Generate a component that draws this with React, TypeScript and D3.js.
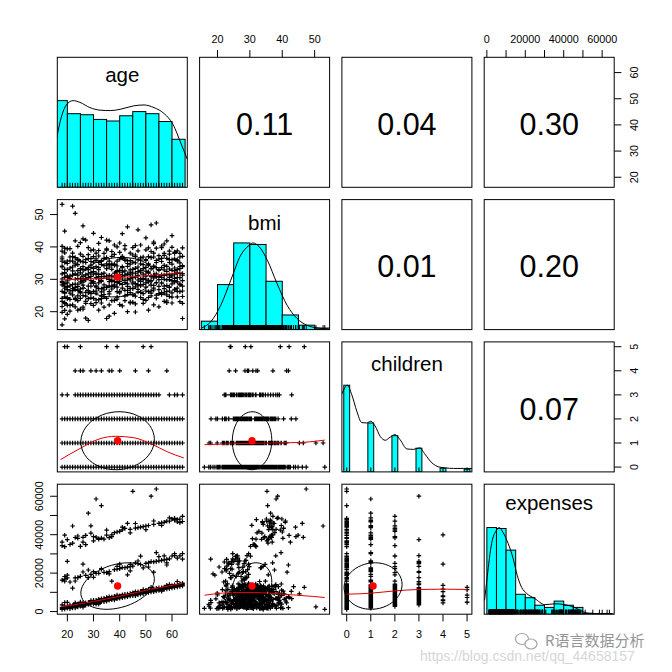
import React from "react";
import * as d3 from "d3";

// ---------- data (insurance sample) ----------
// batch A
const ageA = [
  18,18,18,18,18,18,18,18,18,18,18,18,18,18,18,
  19,19,19,19,19,19,19,19,19,19,19,19,19,19,
  20,20,20,20,20,20,20,20,20,
  21,21,21,21,21,21,21,21,
  22,22,22,22,22,22,22,22,
  23,23,23,23,23,23,23,23,23,
  24,24,24,24,24,24,24,24,
  25,25,25,25,25,25,25,25,
  26,26,26,26,26,26,26,26,
  27,27,27,27,27,27,27,27,
  28,28,28,28,28,28,28,28,
  29,29,29,29,29,29,29,29,
  30,30,30,30,30,30,30,30,
  31,31,31,31,31,31,31,31,
  32,32,32,32,32,32,32,32,
  33,33,33,33,33,33,33,33,
  34,34,34,34,34,34,34,
  35,35,35,35,35,35,35,
  36,36,36,36,36,36,36,
  37,37,37,37,37,37,37,
  38,38,38,38,38,38,38,
  39,39,39,39,39,39,39,
  40,40,40,40,40,40,40,
  41,41,41,41,41,41,
  42,42,42,42,42,42,42,
  43,43,43,43,43,43,43,
  44,44,44,44,44,44,
  45,45,45,45,45,45,45,
  46,46,46,46,46,46,46,
  47,47,47,47,47,47,
  48,48,48,48,48,48,48,
  49,49,49,49,49,49,
  50,50,50,50,50,50,50,
  51,51,51,51,51,51,
  52,52,52,52,52,52,52,
  53,53,53,53,53,53,53,
  54,54,54,54,54,54,54,
  55,55,55,55,55,55,
  56,56,56,56,56,56,
  57,57,57,57,57,57,57,
  58,58,58,58,58,58,
  59,59,59,59,59,59,59,
  60,60,60,60,60,60,60,
  61,61,61,61,61,61,
  62,62,62,62,62,62,62,
  63,63,63,63,63,63,
  64,64,64,64,64,64,64,
];
const bmiA = [
  33.8,34.1,26.3,23.2,38.7,21.6,29.4,35.6,31.7,28.3,36.9,53.13,40.2,30.1,15.96,
  27.9,24.6,28.6,20.4,32.1,35.2,25.7,44.9,17.8,31.9,22.5,30.6,39.6,27.3,
  33.0,26.8,22.0,30.7,39.4,35.6,28.9,31.1,24.4,
  35.7,23.8,31.1,25.7,36.9,21.9,39.5,28.0,
  35.6,52.6,31.3,27.1,33.8,22.1,38.1,26.5,
  34.4,23.8,17.4,50.4,28.5,36.7,24.2,31.7,41.9,
  23.4,32.7,28.5,35.9,26.6,40.2,20.5,30.2,
  26.2,33.3,24.1,30.2,25.8,35.6,41.3,20.8,
  20.8,29.6,32.9,35.4,27.3,37.1,29.1,46.5,
  42.1,24.8,30.3,33.2,23.2,31.4,36.1,18.0,
  33.0,36.4,25.9,17.3,31.7,26.5,37.6,24.0,
  29.6,27.9,35.5,32.1,22.5,38.9,25.6,34.4,
  35.3,32.4,28.7,24.1,39.1,21.9,44.2,31.6,
  36.3,25.7,38.1,27.6,30.5,23.6,33.9,26.4,
  28.9,33.6,31.5,23.7,37.2,20.5,35.2,41.1,
  22.7,35.8,27.1,24.8,30.3,42.9,35.5,29.4,
  31.9,21.4,25.3,26.7,34.2,38.0,27.5,
  36.7,34.8,27.7,24.1,31.0,42.1,17.9,
  28.0,30.0,34.4,26.2,41.9,22.1,33.8,
  27.7,29.8,28.0,37.1,23.4,34.8,31.0,
  27.8,19.5,40.6,29.3,37.7,31.9,34.7,
  26.2,32.3,34.1,23.9,40.0,29.0,24.5,
  28.7,26.3,41.2,36.2,22.2,32.8,30.9,
  32.2,21.8,33.6,28.4,37.1,31.0,
  26.6,36.2,23.4,31.3,40.4,29.0,35.8,
  27.8,35.7,34.0,30.1,20.0,46.2,25.3,
  31.4,27.2,38.1,23.0,34.7,29.8,
  30.5,35.3,25.2,39.8,22.9,33.1,28.6,
  33.4,27.7,40.4,24.8,31.9,37.0,19.9,
  26.1,36.0,28.2,32.4,29.8,45.3,
  28.0,32.2,36.6,24.4,40.6,30.2,34.8,
  30.3,25.6,36.9,29.9,22.6,33.3,
  31.0,26.4,36.1,23.5,33.7,28.9,42.8,
  37.0,29.2,32.3,24.4,39.7,34.8,
  30.8,26.4,38.6,33.3,24.9,46.8,29.6,
  28.1,34.1,31.2,22.1,36.9,26.7,41.5,
  30.8,47.4,25.1,33.6,28.9,35.8,39.6,
  32.8,30.7,37.3,26.8,21.5,29.9,
  39.8,40.3,28.8,33.6,25.9,36.5,
  23.2,31.2,40.9,27.9,34.3,25.7,38.0,
  32.4,25.2,36.5,28.1,41.9,22.8,
  27.7,31.4,35.2,26.4,29.9,37.8,24.7,
  25.8,36.0,39.9,32.8,28.6,24.5,43.5,
  31.6,29.1,36.3,26.9,33.5,38.4,
  26.3,33.0,32.0,38.8,30.5,24.6,36.0,
  23.1,28.3,35.1,31.8,26.2,38.0,
  24.7,33.9,26.4,31.8,39.7,37.1,22.6,
];
const childrenA = [
  1,0,0,0,2,0,1,0,2,1,0,0,0,3,0,
  0,1,5,0,0,0,2,0,0,0,0,1,0,1,
  1,0,1,0,5,3,0,0,0,
  0,0,0,2,1,1,0,1,
  0,1,1,0,0,0,1,2,
  0,0,1,1,4,2,0,3,0,
  0,0,0,1,0,0,0,2,
  0,2,5,0,1,3,4,0,
  0,4,2,0,3,1,0,1,
  0,0,3,2,0,1,0,2,
  3,1,1,0,0,2,1,3,
  1,0,2,2,3,1,4,0,
  0,1,3,1,3,0,2,0,
  2,0,1,3,0,4,0,0,
  0,1,2,0,3,0,2,1,
  0,2,1,0,3,3,0,4,
  1,0,2,3,0,3,1,
  1,2,2,1,0,5,1,
  1,2,0,0,4,3,1,
  3,2,2,4,2,2,0,
  2,2,1,0,0,3,0,
  0,2,3,5,0,1,1,
  3,1,1,0,2,2,4,
  1,1,0,2,2,3,
  0,1,0,0,2,3,2,
  0,2,3,1,2,0,3,
  1,2,0,1,0,2,
  2,0,3,0,0,1,1,
  1,0,2,3,4,0,1,
  1,1,3,0,2,1,
  1,2,1,0,0,2,3,
  5,2,0,1,3,1,
  3,0,1,2,0,1,2,
  0,4,2,3,1,0,
  1,3,3,2,0,5,1,
  3,0,1,1,2,0,0,
  3,0,3,1,2,0,1,
  2,0,0,1,1,3,
  0,0,0,2,1,0,
  0,0,0,2,1,0,2,
  4,0,2,2,0,0,
  3,0,0,0,1,2,0,
  0,0,0,1,2,0,0,
  0,3,1,2,0,0,
  0,3,0,0,1,0,1,
  0,0,0,1,2,0,
  1,0,0,2,0,2,0,
];
const expensesA = [
  1726,1137,2198,1121.87,3393,1622,2007,1635,34304,16360,36149,1164,1705,3481,1695,
  16885,1837,4688,1625,1880,1728,2710,39723,1728,33750,15860,2256,1915,18223,
  1980,2102,2412,1824,4830,37465,17560,1745,26125,
  2404,3077,1526,3279,2584,15360,2026,2250,
  35586,44501,2709,2450,1870,2155,3049,12200,
  1827,2395,2775,2438,4544,38511,17512,4030,2010,
  2457,2866,17663,3245,3046,38126,2362,3480,
  2721,4058,4915,33900,18360,4578,4504,3208,
  2302,24672,3907,2322,4661,3597,2940,38660,
  39612,18810,4261,4058,3561,34838,3364,4615,
  4449,51195,4134,3732,3842,4340,21640,17663,
  19330,3908,44585,4433,5290,4380,5708,3940,
  36837,4150,20745,4965,5850,4718,39020,3981,
  38711,3757,58571,5290,4059,5831,4462,19870,
  3867,37607,5148,19926,6334,4544,5472,5440,
  21984,38282,5246,5080,6311,6666,55135,6059,
  37702,5100,6184,20412,5246,6820,5800,
  39774,6575,20234,5890,5375,7300,5781,
  20774,6832,38415,5920,7725,7228,6390,
  7282,6406,6204,39871,6796,15785,6140,
  7250,6640,6373,21760,41014,7954,6082,
  6650,7450,23563,8582,41420,6840,22030,
  8060,7450,6985,7095,22350,41700,8162,
  7359,7720,22900,8200,42560,8780,
  22840,7980,7520,7650,43254,8930,8760,
  23110,19144,9140,8200,8720,45863,9110,
  8500,8960,42820,8600,24520,23380,
  9225,62590,9800,8410,23650,8775,8570,
  8241,8600,43380,9910,10330,25370,9550,
  9410,43660,24915,8800,9680,9250,
  9570,10020,43940,24460,9160,28860,10490,
  11400,10300,44220,9860,10735,22720,
  11000,9650,44500,25100,9880,10120,10500,
  9916,11650,10850,25333,44780,10360,
  10797,25992,60021,11200,10340,12592,10400,
  11795,45340,10900,25810,11460,10460,20462,
  12105,63770.43,26080,11160,11575,10711,30700,
  12269,10980,45900,26350,11400,12420,
  11091,10602,26620,12430,11700,46180,
  11505,12100,46460,12750,12050,26890,29010,
  13650,11770,47010,12680,24227,27160,
  14001,12140,47020,12330,13080,13440,27430,
  28923,13229,48173,12750,13500,12555,13000,
  12950,29141,47580,13950,13143,48517,
  27809,15612,47860,12981,13440,13420,46718,
  14452,13770,48140,13880,28950,14020,
  30166,46889,14395,14260,14320,49577,13830,
];
// batch B
const ageB = [
  18,18,18,18, 19,19,19,19, 20,20,20,20, 21,21,21,21, 22,22,22,22, 23,23,23,23,
  24,24,24,24, 25,25,25,25, 26,26,26,26, 27,27,27,27, 28,28,28,28, 29,29,29,29,
  30,30,30,30, 31,31,31,31, 32,32,32,32, 33,33,33,33, 34,34,34,34, 35,35,35,35,
  36,36,36,36, 37,37,37,37, 38,38,38,38, 39,39,39,39, 40,40,40,40, 41,41,41,41,
  42,42,42,42, 43,43,43,43, 44,44,44,44, 45,45,45,45, 46,46,46,46, 47,47,47,47,
  48,48,48,48, 49,49,49,49, 50,50,50,50, 51,51,51,51, 52,52,52,52, 53,53,53,53,
  54,54,54,54, 55,55,55,55, 56,56,56,56, 57,57,57,57, 58,58,58,58, 59,59,59,59,
  60,60,60,60, 61,61,61,61, 62,62,62,62, 63,63,63,63, 64,64,64,64,
  21,24,26,29,32,35,37,41,44,46,50,53,56,59,63,
  20,23,26,30,33,36,40,44,47,51,55,58,61,64,
];
const bmiB = [
  29.0,24.1,36.3,19.8, 33.1,26.0,22.8,38.2, 29.5,34.9,24.0,27.6, 30.3,26.4,33.5,20.2,
  28.4,32.6,25.2,37.0, 30.0,26.9,35.0,21.5, 31.3,27.8,34.5,24.9, 29.2,32.0,27.0,37.8,
  30.9,25.0,33.9,28.2, 29.9,26.0,35.2,22.6, 30.5,33.6,27.9,39.8, 30.9,28.8,36.4,24.3,
  29.3,33.4,26.3,37.0, 31.9,28.0,35.8,22.8, 30.2,27.1,33.0,38.9, 29.7,31.6,26.1,34.6,
  30.9,28.3,36.5,24.6, 30.4,27.4,33.3,39.0, 31.2,29.3,25.5,35.6, 29.5,33.1,27.0,38.6,
  30.8,28.3,34.3,23.5, 30.6,27.6,35.6,32.7, 31.5,29.4,25.8,38.3, 30.1,33.9,27.3,36.6,
  29.6,32.6,24.9,39.3, 31.7,28.6,34.9,26.6, 30.3,35.8,25.9,32.9, 29.1,31.9,37.5,27.1,
  30.7,28.7,35.1,22.4, 31.2,26.9,33.8,38.8, 29.4,32.8,26.0,35.9, 31.6,28.4,34.5,23.8,
  30.1,32.5,27.6,39.1, 29.7,34.4,26.2,31.9, 31.0,28.2,36.7,25.7, 30.4,33.8,27.3,38.1,
  29.0,31.7,35.2,24.2, 30.9,27.8,33.0,36.2, 31.4,28.9,35.5,25.3, 30.0,32.9,27.1,37.4,
  29.8,34.0,26.3,31.5, 30.6,27.5,36.1,33.2, 31.1,29.5,34.7,22.7, 30.3,32.6,26.7,38.0,
  31.8,29.2,35.6,27.3, 30.5,33.3,28.6,36.9, 31.3,27.9,34.2,29.6,
  31.0,36.2,42.5,33.7,30.8,39.4,34.6,44.1,32.2,37.5,35.8,41.0,30.6,38.7,33.9,
  19.2,27.5,21.4,29.1,24.0,18.6,26.3,22.7,28.4,20.5,25.6,23.3,29.6,17.9,
];
const childrenB = [
  0,0,1,0, 0,0,1,0, 0,1,0,2, 0,1,0,0, 0,2,0,1, 0,1,0,2,
  1,0,0,3, 0,1,2,0, 0,1,2,0, 1,0,0,2, 0,1,2,0, 0,1,3,0,
  0,2,1,0, 1,0,2,0, 0,1,3,0, 1,0,2,0, 0,2,1,0, 1,0,3,0,
  0,1,2,0, 0,1,3,1, 1,0,2,0, 0,1,2,0, 0,2,1,0, 0,1,3,0,
  1,0,2,0, 0,1,2,0, 0,1,3,2, 0,1,2,0, 0,2,1,0, 0,1,3,0,
  0,1,2,0, 1,0,2,0, 0,2,1,0, 0,1,2,0, 0,1,0,2, 1,0,2,0,
  0,1,2,0, 0,1,3,0, 1,0,2,0, 0,1,2,0, 0,1,0,2, 1,0,0,2,
  0,1,0,2, 0,1,0,1, 0,2,0,1, 0,1,2,0, 0,1,0,3,
  0,1,0,0,1,0,2,0,1,0,0,1,0,1,0,
  0,1,0,0,1,0,0,1,0,0,0,1,0,0,
];
const expensesB = [
  1420,1250,1800,1530, 1500,1360,2000,1700, 1960,2330,1830,2700, 2100,2450,1800,2300,
  2330,3100,2190,2680, 2600,2950,2350,3450, 3200,2850,2700,3950, 3110,3520,3900,2980,
  3300,3700,4150,3450, 3900,3600,3450,4500, 3900,4350,4700,3800, 4200,4650,5400,4050,
  4400,5300,4850,4300, 5000,4700,5550,4600, 4950,5300,6200,4800, 5600,5200,6000,5100,
  5450,6350,5900,5350, 6150,5700,7050,5650, 6000,6400,6900,5850, 6250,6700,7550,6650,
  6950,6500,7350,6400, 6800,7200,7700,6700, 7050,7950,7400,6950, 7300,7750,8650,7250,
  8000,7600,8500,7500, 7850,8250,8750,7800, 8100,8550,9400,9000, 8350,8800,9250,8300,
  8650,9500,9050,8600, 8900,9300,10200,8850, 9150,9600,10050,9100, 9850,9400,10300,9350,
  9700,10550,10100,9600, 9950,10400,10850,9900, 10200,10650,10150,11100, 10900,10450,11350,10400,
  10750,11150,11650,10700, 11000,11450,12350,10950, 11700,11250,12150,11200, 11550,11950,12400,11500,
  11800,12250,11750,12700, 12500,12050,12000,12950, 12350,12750,12300,13200, 12600,13000,12550,13050,
  12850,13750,12800,13300, 13100,13550,14000,13050, 13400,13800,13350,14750,
  34900,39300,36100,40800,37900,42400,39000,43900,41000,45800,42600,47100,44900,48800,46300,
  18900,15900,20600,17800,22300,19600,24700,21200,26300,23200,28600,25300,30100,27300,
];
const age = [...ageA, ...ageB];
const bmi = [...bmiA, ...bmiB];
const children = [...childrenA, ...childrenB];
const expenses = [...expensesA, ...expensesB];

const varNames = ["age", "bmi", "children", "expenses"];

// summary statistics of the full data set (means, sds, correlations)
const means = [39.21, 30.67, 1.095, 13270];
const sds = [14.05, 6.1, 1.205, 12110];
// upper triangle, order: (age,bmi) (age,children) (age,expenses) (bmi,children) (bmi,expenses) (children,expenses)
const corrValues = [0.109, 0.042, 0.299, 0.013, 0.198, 0.068];
const corrLabels = ["0.11", "0.04", "0.30", "0.01", "0.20", "0.07"];

// histograms
const ageBreaks = [15, 20, 25, 30, 35, 40, 45, 50, 55, 60, 65];
const ageCounts = [166, 141, 139, 130, 127, 137, 145, 141, 126, 92];
const bmiBreaks = [15, 20, 25, 30, 35, 40, 45, 50, 55];
const bmiCounts = [38, 203, 391, 384, 218, 66, 20, 7];
const childrenLevels = [0, 1, 2, 3, 4, 5];
const childrenCounts = [574, 324, 240, 157, 25, 18];
const expBreaks = [0, 5000, 10000, 15000, 20000, 25000, 30000, 35000, 40000, 45000, 50000, 55000, 60000, 65000];
const expCounts = [357, 353, 264, 82, 68, 37, 28, 54, 37, 28, 4, 2, 3];

// density curves (scaled so that max = 1)
const ageDensX = [16.0, 17.7, 19.6, 22.2, 24.8, 28.6, 32.5, 36.4, 40.2, 45.4, 49.3, 53.1, 57.0, 60.3, 63.5, 66.3];
const ageDensY = [0.58, 0.81, 0.95, 1.0, 0.98, 0.92, 0.89, 0.885, 0.9, 0.94, 0.95, 0.92, 0.85, 0.73, 0.5, 0.29];
const bmiDensX = [15.2, 17.9, 21.0, 24.1, 27.2, 29.7, 30.9, 32.8, 35.4, 38.4, 41.5, 44.6, 47.6, 50.7, 54.3];
const bmiDensY = [0.02, 0.09, 0.28, 0.57, 0.86, 0.97, 1.0, 0.96, 0.8, 0.53, 0.28, 0.127, 0.05, 0.02, 0.008];
const childDensX = [-0.2, 0.03, 0.21, 0.42, 0.62, 0.83, 1.0, 1.18, 1.39, 1.6, 1.8, 2.01, 2.22, 2.5, 2.78, 3.03, 3.26, 3.54, 3.82, 4.1, 4.44, 4.86, 5.2];
const childDensY = [0.9, 1.0, 0.89, 0.7, 0.57, 0.565, 0.585, 0.53, 0.41, 0.365, 0.4, 0.43, 0.37, 0.265, 0.26, 0.277, 0.2, 0.104, 0.058, 0.046, 0.04, 0.04, 0.04];
const expDensX = [-1190, 177, 2467, 5069, 6422, 8504, 11106, 13708, 15790, 18080, 20682, 24998, 30202, 35406, 40610, 45814, 50150, 53620, 60000, 66000];
const expDensY = [0.16, 0.43, 0.815, 0.97, 1.0, 0.94, 0.815, 0.64, 0.45, 0.31, 0.24, 0.18, 0.11, 0.12, 0.11, 0.077, 0.027, 0.008, 0.004, 0.004];

// lowess smoothers for the lower panels, keyed "row-col"
const smoothX: Record<string, number[]> = {
  "1-0": [18, 30, 40, 50, 64],
  "2-0": [17.4, 24.8, 32.5, 38.3, 45.4, 51.9, 58.3, 64.5],
  "2-1": [16.0, 25, 35, 45, 48.5, 53.1],
  "3-0": [18, 30, 40, 50, 64],
  "3-1": [16.0, 25.1, 31.2, 40.4, 49.7, 53.1],
  "3-2": [0, 1, 2, 3, 4, 5],
};
const smoothY: Record<string, number[]> = {
  "1-0": [29.8, 30.2, 30.6, 31.1, 32.1],
  "2-0": [0.31, 0.77, 1.18, 1.28, 1.22, 0.97, 0.63, 0.38],
  "2-1": [0.93, 0.97, 1.0, 1.02, 1.05, 1.12],
  "3-0": [2600, 5200, 8000, 11000, 14700],
  "3-1": [8500, 9900, 9900, 9030, 7830, 7300],
  "3-2": [9030, 9550, 10750, 11480, 11650, 11500],
};

// axis ticks
const ageTicks = [20, 30, 40, 50, 60];
const bmiTicks = [20, 30, 40, 50];
const childrenTicks = [0, 1, 2, 3, 4, 5];
const expTicks = [0, 10000, 20000, 30000, 40000, 50000, 60000];
const expTickLabels = [0, 20000, 40000, 60000];

// ---------- layout ----------
const L0 = 57.3;
const STEP = 142.3;
const S = 130;
const FONT = "'Liberation Sans', Arial, Helvetica, sans-serif";
const labelOffsets = [24.2, 30.7, 29.4, 25.5];

const vars = [age, bmi, children, expenses];
const ext = vars.map((v) => {
  const [a, b] = d3.extent(v) as [number, number];
  const p = (b - a) * 0.04;
  return [a - p, b + p];
});
const xs = (k: number) => d3.scaleLinear().domain(ext[k]).range([L0 + k * STEP, L0 + k * STEP + S]);
const ys = (k: number) => d3.scaleLinear().domain(ext[k]).range([L0 + k * STEP + S, L0 + k * STEP]);

const corrIndex = (i: number, j: number) => {
  const pairs = ["0-1", "0-2", "0-3", "1-2", "1-3", "2-3"];
  return pairs.indexOf(`${i}-${j}`);
};

function ellipsePts(i: number, j: number) {
  const r = corrValues[corrIndex(j, i)];
  const th = (r !== 0 ? Math.sign(r) : 1) / Math.SQRT2;
  const a = Math.sqrt(1 + r) * th;
  const b = Math.sqrt(1 - r) * th;
  const sx = xs(j), sy = ys(i);
  return d3.range(52).map((s) => {
    const ang = (s * 2 * Math.PI) / 51;
    const c = Math.cos(ang), sn = Math.sin(ang);
    const ex = c * a - sn * b;
    const ey = c * a + sn * b;
    return [sx(ex * sds[j] + means[j]), sy(ey * sds[i] + means[i])] as [number, number];
  });
}

function Diagonal({ k }: { k: number }) {
  const x0 = L0 + k * STEP, y0 = L0 + k * STEP;
  const sx = xs(k);
  const sy = d3.scaleLinear().domain([0, 1.5]).range([y0 + S, y0]);
  let rects: { x1: number; x2: number; h: number }[] = [];
  let dx: number[] = [], dy: number[] = [];
  if (k === 0) {
    const m = d3.max(ageCounts)!;
    rects = ageCounts.map((c, t) => ({ x1: ageBreaks[t], x2: ageBreaks[t + 1], h: c / m }));
    dx = ageDensX; dy = ageDensY;
  } else if (k === 1) {
    const m = d3.max(bmiCounts)!;
    rects = bmiCounts.map((c, t) => ({ x1: bmiBreaks[t], x2: bmiBreaks[t + 1], h: c / m }));
    dx = bmiDensX; dy = bmiDensY;
  } else if (k === 2) {
    const m = d3.max(childrenCounts)!;
    const ib = (1 * (childrenLevels.length - 1)) / 41;
    rects = childrenCounts.map((c, t) => ({ x1: childrenLevels[t] - ib, x2: childrenLevels[t] + ib, h: c / m }));
    dx = childDensX; dy = childDensY;
  } else {
    const m = d3.max(expCounts)!;
    rects = expCounts.map((c, t) => ({ x1: expBreaks[t], x2: expBreaks[t + 1], h: c / m }));
    dx = expDensX; dy = expDensY;
  }
  const dm = d3.max(dy)!;
  const line = d3.line<number>().x((_, t) => sx(dx[t])).y((v) => sy(v / dm)).curve(d3.curveMonotoneX);
  const uniq = Array.from(new Set(vars[k]));
  const rug = uniq.map((v) => `M${sx(v).toFixed(2)},${y0 + S}v-4.5`).join("");
  return (
    <g>
      <g clipPath={`url(#clip${k}${k})`}>
        {rects.map((r, t) => (
          <rect key={t} x={sx(r.x1)} y={sy(r.h)} width={sx(r.x2) - sx(r.x1)} height={sy(0) - sy(r.h)}
            fill="#00FFFF" stroke="#000" strokeWidth={1} />
        ))}
        <path d={line(dy) || ""} fill="none" stroke="#000" strokeWidth={1} />
        <path d={rug} stroke="#000" strokeWidth={1} fill="none" />
      </g>
      <text x={x0 + S / 2} y={y0 + labelOffsets[k]} textAnchor="middle" fontSize={20.5} fontFamily={FONT} fill="#000">
        {varNames[k]}
      </text>
    </g>
  );
}

function Lower({ i, j }: { i: number; j: number }) {
  const sx = xs(j), sy = ys(i);
  const xv = vars[j], yv = vars[i];
  const n = Math.min(xv.length, yv.length);
  let d = "";
  for (let t = 0; t < n; t++) {
    const px = sx(xv[t]), py = sy(yv[t]);
    d += `M${(px - 2.3).toFixed(1)},${py.toFixed(1)}h4.6M${px.toFixed(1)},${(py - 2.3).toFixed(1)}v4.6`;
  }
  const key = `${i}-${j}`;
  const smx = smoothX[key], smy = smoothY[key];
  const sm = d3.line<number>().x((v) => sx(v)).y((_, t) => sy(smy[t])).curve(d3.curveMonotoneX)(smx) || "";
  const el = d3.line()(ellipsePts(i, j)) || "";
  return (
    <g clipPath={`url(#clip${i}${j})`}>
      <path d={d} stroke="#000" strokeWidth={1.2} fill="none" />
      <path d={sm} stroke="#e00000" strokeWidth={1} fill="none" />
      <circle cx={sx(means[j])} cy={sy(means[i])} r={3.7} fill="#ff0000" />
      <path d={el} stroke="#000" strokeWidth={1} fill="none" />
    </g>
  );
}

function Upper({ i, j }: { i: number; j: number }) {
  const x0 = L0 + j * STEP, y0 = L0 + i * STEP;
  return (
    <text x={x0 + S / 2} y={y0 + S / 2 + 12.7} textAnchor="middle" fontSize={30.5} fontFamily={FONT} fill="#000">
      {corrLabels[corrIndex(i, j)]}
    </text>
  );
}

function TopAxis({ k, ticks, labels }: { k: number; ticks: number[]; labels: number[] }) {
  const sx = xs(k);
  return (
    <g>
      {ticks.map((t) => (
        <line key={t} x1={sx(t)} x2={sx(t)} y1={L0} y2={L0 - 7.2} stroke="#000" />
      ))}
      {labels.map((t) => (
        <text key={t} x={sx(t)} y={42.5} textAnchor="middle" fontSize={10.8} fontFamily={FONT}>{t}</text>
      ))}
    </g>
  );
}
function BottomAxis({ k, ticks, labels }: { k: number; ticks: number[]; labels: number[] }) {
  const sx = xs(k);
  const yb = L0 + 3 * STEP + S;
  return (
    <g>
      {ticks.map((t) => (
        <line key={t} x1={sx(t)} x2={sx(t)} y1={yb} y2={yb + 7.2} stroke="#000" />
      ))}
      {labels.map((t) => (
        <text key={t} x={sx(t)} y={638} textAnchor="middle" fontSize={10.8} fontFamily={FONT}>{t}</text>
      ))}
    </g>
  );
}
function LeftAxis({ k, ticks, labels }: { k: number; ticks: number[]; labels: number[] }) {
  const sy = ys(k);
  return (
    <g>
      {ticks.map((t) => (
        <line key={t} x1={L0} x2={L0 - 7.2} y1={sy(t)} y2={sy(t)} stroke="#000" />
      ))}
      {labels.map((t) => (
        <text key={t} transform={`translate(42.6,${sy(t)}) rotate(-90)`} textAnchor="middle" fontSize={10.8} fontFamily={FONT}>{t}</text>
      ))}
    </g>
  );
}
function RightAxis({ k, ticks, labels }: { k: number; ticks: number[]; labels: number[] }) {
  const sy = ys(k);
  const xr = L0 + 3 * STEP + S;
  return (
    <g>
      {ticks.map((t) => (
        <line key={t} x1={xr} x2={xr + 7.2} y1={sy(t)} y2={sy(t)} stroke="#000" />
      ))}
      {labels.map((t) => (
        <text key={t} transform={`translate(637.6,${sy(t)}) rotate(-90)`} textAnchor="middle" fontSize={10.8} fontFamily={FONT}>{t}</text>
      ))}
    </g>
  );
}

export default function App() {
  const cells: React.ReactNode[] = [];
  const clips: React.ReactNode[] = [];
  for (let i = 0; i < 4; i++) {
    for (let j = 0; j < 4; j++) {
      const x0 = L0 + j * STEP, y0 = L0 + i * STEP;
      clips.push(
        <clipPath key={`c${i}${j}`} id={`clip${i}${j}`}>
          <rect x={x0} y={y0} width={S} height={S} />
        </clipPath>
      );
      let content: React.ReactNode;
      if (i === j) content = <Diagonal k={i} />;
      else if (i > j) content = <Lower i={i} j={j} />;
      else content = <Upper i={i} j={j} />;
      cells.push(
        <g key={`p${i}${j}`}>
          {content}
          <rect x={x0} y={y0} width={S} height={S} fill="none" stroke="#000" strokeWidth={1} />
        </g>
      );
    }
  }
  return (
    <div style={{ position: "absolute", left: 0, top: 0, width: 672, height: 672, background: "#fff" }}>
      <svg width={672} height={672} style={{ display: "block" }}>
        <defs>{clips}</defs>
        <rect x={0} y={0} width={672} height={672} fill="#fff" />
        {cells}
        <TopAxis k={1} ticks={bmiTicks} labels={bmiTicks} />
        <TopAxis k={3} ticks={expTicks} labels={expTickLabels} />
        <BottomAxis k={0} ticks={ageTicks} labels={ageTicks} />
        <BottomAxis k={2} ticks={childrenTicks} labels={childrenTicks} />
        <LeftAxis k={1} ticks={bmiTicks} labels={bmiTicks} />
        <LeftAxis k={3} ticks={expTicks} labels={expTickLabels} />
        <RightAxis k={0} ticks={ageTicks} labels={ageTicks} />
        <RightAxis k={2} ticks={childrenTicks} labels={childrenTicks} />
        {/* watermark */}
        <text x={420} y={661} fontSize={14} fontFamily="'Liberation Sans', Arial, sans-serif" fill="#d6d6d6">
          https://blog.csdn.net/qq_44658157
        </text>
        <g opacity={0.9}>
          <ellipse cx={522} cy={639} rx={6.5} ry={5.5} fill="none" stroke="#9a9a9a" strokeWidth={1.2} />
          <ellipse cx={531} cy={644} rx={6} ry={5} fill="#fff" stroke="#9a9a9a" strokeWidth={1.2} />
          <text x={545} y={646} fontSize={15} fontFamily="'Noto Sans CJK SC', sans-serif" fill="#8a8a8a"
            stroke="#fff" strokeWidth={0.6} paintOrder="stroke">R语言数据分析</text>
        </g>
      </svg>
    </div>
  );
}
